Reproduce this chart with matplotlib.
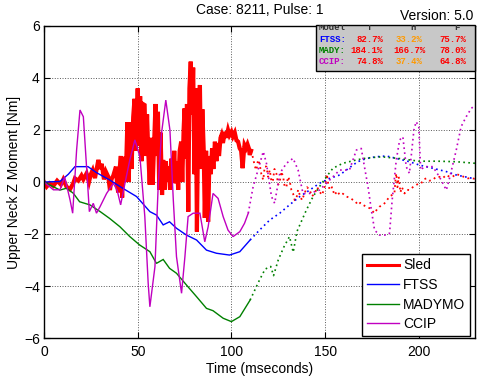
import numpy as np
import matplotlib
matplotlib.use('Agg')
import matplotlib.pyplot as plt
from matplotlib.patches import Rectangle

plt.rcParams['font.family'] = ['Liberation Sans', 'DejaVu Sans']

# Sled (test)
sled_t = [0, 1.4, 3, 5, 7, 9, 10.3, 12, 13.9, 15.6, 16.5, 18.3, 20, 21, 22.7, 24, 25, 26, 27.2,
          29, 30, 30.8, 32, 33, 34.3, 35.2, 36, 37, 38.4, 39, 39.6, 40.5, 41, 41.7, 42.3, 43,
          43.7, 44.5, 45.2, 46, 46.7, 47.6, 48.3, 49, 50, 50.7, 51.3, 52, 52.8, 53.7, 54.3, 55,
          55.6, 56.4, 57.2, 58, 58.8, 59.5, 60.2, 60.8, 61.5, 62.2, 63, 63.6, 64.3, 65, 65.8,
          66.5, 67.3, 68, 68.8, 69.5, 70.2, 71, 71.6, 72.4, 73.2, 73.8, 74.5, 75, 75.6, 76.3,
          77, 77.6, 78.3, 79, 79.6, 80.3, 81, 81.6, 82.3, 83.2, 83.8, 84.5, 85.2, 85.8, 86.5,
          87.2, 87.6, 88.3, 89, 89.7, 90.4, 91.2, 92, 92.7, 93.4, 94.2, 94.7, 95.5, 96.5, 97.3,
          98.2, 99, 100, 100.8, 101.8, 102.7, 103.6, 104.4, 105.2, 106, 106.6, 107, 107.8,
          108.6, 109.3, 109.8, 110.5, 111.6, 112.5, 113.4, 114.2, 115, 116, 117, 117.8, 118.7,
          119.6, 120.5, 121.4, 122.2, 123, 124, 125, 125.8, 126.7, 127.6, 128.5, 129.4, 130.2,
          131, 132, 132.9, 133.8, 134.7, 135.6, 136.5, 137.7, 139, 140.4, 141.8, 143, 144.5,
          145.8, 147, 148.4, 149.8, 150.5, 151, 151.7, 152.5, 153.7, 155, 156.5, 157.8, 159.5,
          161.3, 163, 164.9, 166.2, 167.5, 168.8, 170.2, 172, 173.8, 175, 176.4, 177.7, 179,
          180.4, 181.7, 183, 184.4, 185.7, 187, 187.6, 188, 188.6, 189.3, 190.2, 191, 192.4,
          193.7, 195, 196.8, 198.6, 200, 201.3, 202.6, 204, 205.7, 207.5, 209.2, 211, 212.8,
          214.7, 216.4, 218, 219.8, 221.7, 224, 226.2, 228, 230]
sled_y = [0, -0.18, -0.05, -0.15, 0.05, -0.1, 0.1, -0.18, -0.28, -0.05, 0.14, 0.05, 0.25, 0.1,
          0.33, 0.0, 0.3, 0.46, 0.15, 0.85, 0.5, 0.7, 0.1, 0.4, 0.2, -0.31, 0.1, 0.25, 0.59,
          -0.1, -0.4, 0.6, 1.0, -0.6, 0.97, 0.0, 0.3, 2.3, 0.0, 2.3, 0.5, 2.5, 3.2, 1.2, 3.6,
          1.4, 3.3, 0.8, 3.0, 2.96, 1.0, 2.6, 1.2, -0.1, 1.7, -0.1, 1.5, 3.0, 1.0, 2.7, -0.3,
          1.9, -0.5, 0.85, -0.3, 0.8, 0.0, 0.6, -0.3, 0.9, 0.1, 1.2, -0.05, 0.8, -0.3, 1.2,
          1.55, 0.0, 2.0, 2.83, 0.9, 3.0, -1.14, 3.6, 4.63, 2.6, 4.4, 0.3, 3.6, -1.91, 2.5,
          3.73, 0.5, 2.8, 1.3, -1.38, 1.2, -0.8, -1.53, 1.0, 0.3, 1.3, 0.5, 1.55, 0.8, 1.5,
          1.0, 1.7, 1.8, 1.5, 1.93, 1.7, 2.0, 1.8, 1.93, 1.75, 1.9, 1.6, 1.55, 1.3, 1.2, 0.53,
          1.1, 1.42, 1.3, 1.45, 1.3, 1.04, 1.2, 0.91, 0.6, 0.46, 0.85, 0.72, 0.3, 0.08, 0.6,
          0.59, 0.2, 0.46, 0.0, 0.08, 0.5, 0.33, -0.1, 0.01, 0.4, 0.2, -0.2, -0.18, 0.2, 0.08,
          -0.3, -0.44, -0.7, -0.63, -0.3, -0.5, -0.7, -0.44, -0.2, -0.31, -0.55, -0.44, -0.2,
          -0.37, -0.5, -0.18, 0.1, 0.3, -0.1, -0.31, -0.2, -0.5, -0.35, -0.5, -0.45, -0.56,
          -0.6, -0.69, -0.75, -0.88, -0.8, -0.88, -0.95, -1.01, -1.1, -1.2, -1.05, -0.95, -0.9,
          -0.82, -0.7, -0.56, -0.5, -0.44, 0.1, 0.33, -0.2, 0.2, -0.4, -0.2, -0.44, -0.3,
          -0.31, -0.2, -0.12, -0.05, -0.05, 0.1, 0.14, 0.05, 0.08, 0.2, 0.2, 0.15, 0.27, 0.2,
          0.2, 0.3, 0.27, 0.2, 0.14, 0.15, 0.12]

ftss_t = [0, 8.5, 13, 16.5, 23.5, 28, 35, 42, 49.4, 56.5, 60, 63.6, 67, 70.7, 76, 81.4, 86.7,
          92, 99, 104.5, 110, 115, 120.5, 125.8, 131, 136.5, 141.8, 147, 152.5, 157.8, 163,
          167.4, 172, 177, 182.7, 188, 195, 200.4, 207.4, 214.7, 220, 230]
ftss_y = [0, 0.02, 0.3, 0.59, 0.59, 0.36, 0.08, -0.24, -0.56, -1.14, -1.27, -1.65, -1.53,
          -1.78, -2.04, -2.23, -2.62, -2.74, -2.81, -2.68, -2.23, -1.85, -1.46, -1.2, -0.88,
          -0.56, -0.31, -0.05, 0.14, 0.27, 0.55, 0.78, 0.9, 0.97, 1.0, 0.91, 0.78, 0.65, 0.53,
          0.4, 0.27, 0.12]

mady_t = [0, 8.5, 12, 15.6, 19, 24.5, 30, 35, 40.5, 45.8, 51, 56.5, 60, 63.6, 67, 70.7, 76,
          81.4, 86.7, 90.2, 95.6, 100, 104.5, 110, 115, 118, 121, 122.5, 125, 128, 131, 133,
          135, 140, 143.6, 147, 150.7, 154.2, 159.5, 166.7, 172, 180, 190, 200, 210, 220, 230]
mady_y = [0, -0.31, -0.24, -0.43, -0.76, -0.88, -1.14, -1.4, -1.72, -2.1, -2.42, -2.68,
          -3.13, -2.98, -3.32, -3.51, -3.96, -4.41, -4.86, -4.95, -5.24, -5.37, -5.18, -4.54,
          -3.77, -3.35, -3.25, -3.6, -3.0, -2.5, -2.1, -2.7, -1.9, -1.08, -0.56, -0.18, 0.2,
          0.53, 0.72, 0.85, 0.92, 0.97, 0.9, 0.8, 0.8, 0.78, 0.72]

ccip_t = [0, 5, 8.5, 11, 13.9, 15.3, 17.4, 19.2, 21, 22.7, 24.2, 26.3, 28, 29.9, 33.4, 37, 39,
          40.9, 43.2, 45.8, 48.5, 51.2, 53.8, 55.6, 56.5, 59.2, 61, 62.7, 65, 67.2, 69, 70.7,
          73.4, 75.2, 76.9, 79.6, 83.2, 85.8, 87.6, 90.2, 92.9, 95.6, 98.2, 100.9, 104.5, 107,
          109, 111.6, 114.2, 117, 118.7, 121.4, 123.1, 125.8, 129.4, 132.9, 135.6, 138.2,
          141.8, 147, 152.5, 157.8, 163, 166.7, 169.3, 171, 172.9, 174.7, 176.4, 179, 182.7,
          184.4, 185.8, 188, 189.8, 191.5, 193.3, 195, 197.4, 198.6, 200, 201, 203, 207.5, 211,
          214.7, 216.4, 220, 222.6, 225.3, 228, 230]
ccip_y = [0, -0.3, -0.3, 0.2, -0.69, -1.2, 1.23, 2.77, 2.51, 0.59, -1.14, -0.82, -1.2, -0.95,
          -0.44, -0.05, -0.31, -0.88, -0.05, 0.85, 1.62, 0.97, -1.33, -3.9, -4.8, -3.26, -0.05,
          1.87, 3.15, 2.0, -0.69, -2.87, -4.28, -2.87, -1.33, -1.2, -1.2, -2.3, -1.72, -0.44,
          -0.63, -1.33, -1.85, -2.1, -1.91, -1.59, -1.2, -0.18, 0.46, 1.17, 0.72, -0.56, -0.82,
          0.33, 0.72, 0.91, 0.46, -0.44, -0.44, -0.31, 0.08, 0.46, 0.46, 1.23, 1.29, 0.59,
          -0.18, -1.08, -1.85, -2.04, -2.04, -1.97, -0.69, 0.85, 1.62, 1.74, 0.59, 0.33, 2.0,
          2.32, 2.13, 0.46, 0.59, 0.59, 0.2, -0.31, 0.14, 1.23, 2.13, 2.51, 2.83, 2.95]

# rating table
table_models = ['FTSS:', 'MADY:', 'CCIP:']
table_cols = ['Model', 'T', 'H', 'F']
table_vals = [['82.7%', '33.2%', '75.7%'],
              ['184.1%', '166.7%', '78.0%'],
              ['74.8%', '37.4%', '64.8%']]

W, H = 479, 385
fig = plt.figure(figsize=(W / 100, H / 100), dpi=100)
ax = fig.add_axes([44 / W, 47 / H, 431 / W, 312 / H])


def plot_split(t, y, cut, color, lw_solid, lw_dot, label):
    t = np.asarray(t, dtype=float)
    y = np.asarray(y, dtype=float)
    i = np.searchsorted(t, cut, side='right')
    ax.plot(t[:i], y[:i], color=color, lw=lw_solid, label=label, solid_joinstyle='miter')
    ax.plot(t[i - 1:], y[i - 1:], color=color, lw=lw_dot, linestyle=(0, (1, 2)))


plot_split(sled_t, sled_y, 110.6, '#ff0000', 3.0, 1.3, 'Sled')
plot_split(ftss_t, ftss_y, 110, '#0000ff', 1.0, 1.2, 'FTSS')
plot_split(mady_t, mady_y, 110, '#008000', 1.0, 1.2, 'MADYMO')
plot_split(ccip_t, ccip_y, 109.5, '#c000c0', 1.0, 1.2, 'CCIP')

ax.set_xlim(0, 230)
ax.set_ylim(-6, 6)
ax.set_xticks([0, 50, 100, 150, 200])
ax.set_yticks([-6, -4, -2, 0, 2, 4, 6])
ax.grid(True, color='0.35', linestyle=':', lw=0.7)
ax.tick_params(direction='in', top=True, right=True, length=4, labelsize=10, width=0.8)
ax.tick_params(axis='x', pad=5)
ax.tick_params(axis='y', pad=3)
for s in ax.spines.values():
    s.set_linewidth(1.0)
ax.set_xlabel('Time (mseconds)', fontsize=10, labelpad=2)
ax.set_ylabel('Upper Neck Z Moment [Nm]', fontsize=10, labelpad=2)

leg = ax.legend(loc='lower right', bbox_to_anchor=(470 / W, 49 / H), bbox_transform=fig.transFigure,
                borderaxespad=0, fontsize=10, fancybox=False, framealpha=1, edgecolor='black',
                handlelength=2.3, handletextpad=0.3, labelspacing=0.4, borderpad=0.35)
leg.get_frame().set_linewidth(1.0)
leg.get_lines()[0].set_linewidth(2.2)

fig.text(259.5 / W, 1 - 9.5 / H, 'Case: 8211, Pulse: 1', ha='center', va='center', fontsize=10)
fig.text(473 / W, 1 - 16 / H, 'Version: 5.0', ha='right', va='center', fontsize=10)

# gray rating box at the upper right
box = Rectangle((316 / W, 1 - 71 / H), 159 / W, 46 / H, transform=fig.transFigure,
                facecolor='#c8c8c8', edgecolor='black', lw=1.0, zorder=5)
fig.add_artist(box)
mono = dict(family='Liberation Mono', fontweight='bold', fontsize=6.5, zorder=6)
for x, lab, ha in zip([319, 369, 413, 457], table_cols, ['left', 'center', 'center', 'center']):
    tx = fig.text(x / W, 1 - 27.5 / H, lab, ha=ha, va='center', color='#333333', **mono)
    tx.set_clip_path(box)
name_colors = ['#0000ff', '#008000', '#c000c0']
row_y = [39, 50.5, 61]
for name, c, yy, vals in zip(table_models, name_colors, row_y, table_vals):
    fig.text(319 / W, 1 - yy / H, name, ha='left', va='center', color=c, **mono)
    for j, v in enumerate(vals):
        pct = float(v.rstrip('%'))
        vc = '#ff9900' if pct < 50 else '#ff0000'
        xx, ha = [(383, 'right'), (409, 'center'), (466, 'right')][j]
        fig.text(xx / W, 1 - yy / H, v, ha=ha, va='center', color=vc, **mono)

fig.savefig('out.png', dpi=100)
